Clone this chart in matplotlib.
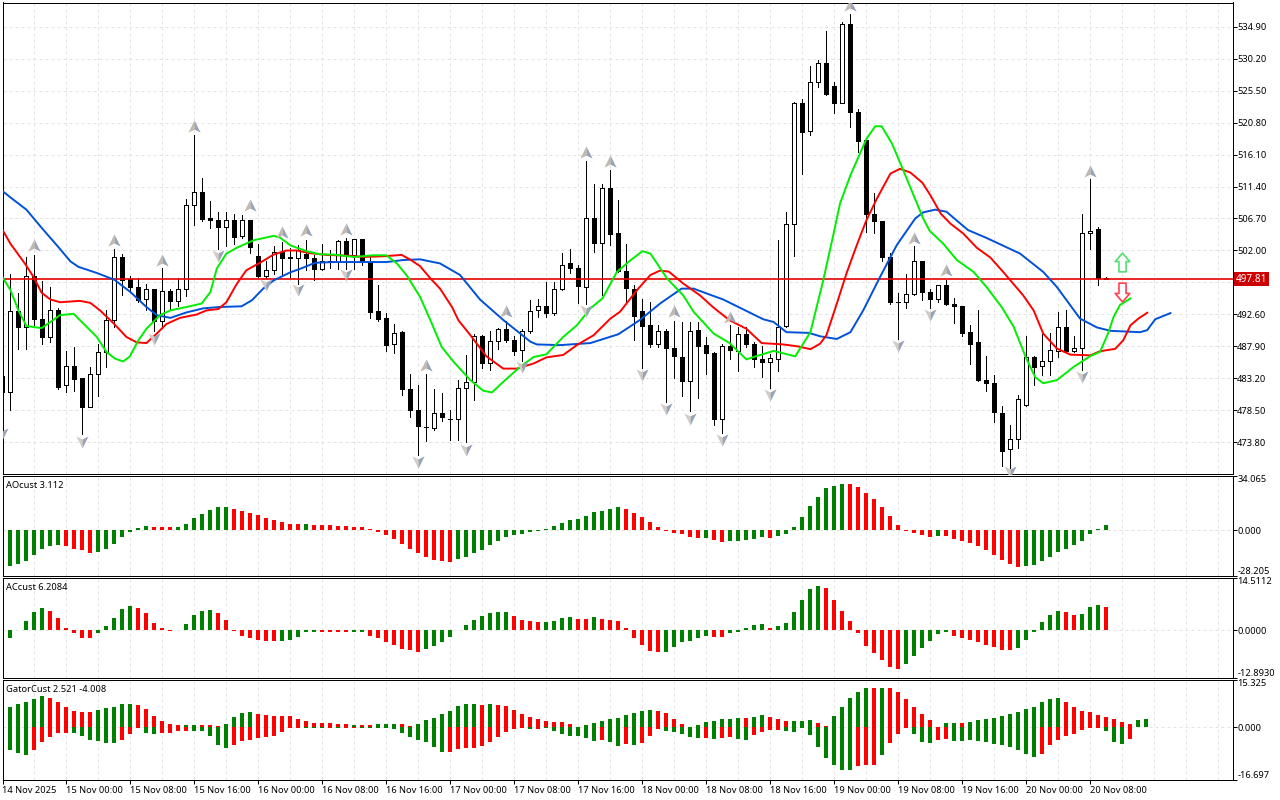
import matplotlib
matplotlib.use('Agg')
import matplotlib.pyplot as plt
from matplotlib.path import Path

plt.rcParams['font.family'] = ['Noto Sans', 'DejaVu Sans']

opens = [483.5,481.2,493.1,490.7,498.3,491.9,489.3,493.3,482.3,485.1,483.2,479.0,483.9,487.1,491.8,501.1,497.8,496.7,494.9,496.4,
  491.7,496.1,494.6,496.4,508.7,510.6,506.7,506.5,505.4,506.5,504.1,506.5,501.2,498.3,499.2,501.8,501.0,500.9,501.5,500.9,
  499.3,500.4,500.3,503.4,501.3,503.7,500.3,493.1,492.1,488.2,490.0,481.7,478.6,476.1,475.9,478.2,477.3,477.3,481.8,482.7,
  489.5,485.5,488.7,490.5,488.9,487.4,490.2,493.3,493.9,492.8,496.3,500.1,499.5,496.6,506.8,503.1,511.2,504.5,499.0,496.4,
  493.1,491.0,488.3,490.2,487.7,486.4,482.8,490.3,488.1,487.0,477.2,487.9,487.3,489.8,488.3,486.0,485.6,486.1,490.9,505.9,
  523.7,519.5,526.7,529.6,526.2,523.6,535.3,522.4,518.2,507.4,506.4,501.1,494.5,494.4,495.6,500.4,495.9,494.9,496.9,494.1,
  493.8,490.0,488.5,483.0,482.6,478.2,472.8,474.3,479.3,486.4,485.1,485.8,487.3,490.7,487.3,487.7,504.6,505.1,498.0]
highs = [499.0,498.6,495.8,501.1,501.4,497.5,496.6,493.6,487.3,487.8,483.2,484.9,488.3,493.3,502.2,501.5,498.3,498.0,497.1,496.4,
  499.4,496.3,498.0,509.6,518.9,512.6,509.2,507.6,507.7,507.4,507.2,506.5,502.9,500.5,502.6,503.2,502.4,502.8,503.6,501.4,
  503.0,502.1,503.6,503.9,503.7,503.7,501.0,497.0,492.8,491.2,490.1,483.8,482.2,483.8,481.6,481.0,478.6,483.0,486.7,489.8,
  489.6,490.1,490.6,491.7,489.4,490.4,494.7,494.9,497.3,497.3,501.7,502.2,499.8,515.2,511.8,511.8,513.8,509.4,502.9,496.9,
  494.9,494.5,491.0,490.5,491.7,491.5,491.5,491.5,489.3,487.1,488.2,491.0,490.8,490.8,488.5,488.0,486.8,503.5,507.6,523.8,
  524.3,529.1,530.0,534.2,526.7,535.5,536.7,522.8,518.2,510.4,506.4,501.7,495.7,498.5,502.6,500.4,496.4,497.0,497.7,495.0,
  493.8,491.0,493.2,486.5,483.7,479.1,476.3,480.7,489.4,486.5,489.8,489.9,492.9,493.2,489.5,507.3,512.5,505.4,498.1]
lows = [476.0,478.5,487.6,487.6,491.1,488.3,488.6,481.6,481.2,481.4,475.0,479.0,480.6,484.9,490.8,495.4,496.1,494.4,493.2,490.1,
  490.7,493.2,493.8,495.3,505.8,506.3,505.3,502.2,502.6,502.9,503.8,501.7,498.1,497.9,498.6,498.3,498.1,497.1,499.1,497.6,
  499.1,499.4,499.3,499.3,499.3,499.8,492.1,491.6,487.2,486.9,480.7,477.5,471.9,474.0,475.7,477.0,474.1,474.1,473.8,480.0,
  484.8,484.4,487.6,488.5,486.6,485.8,489.9,492.3,492.3,492.5,496.2,498.7,494.3,494.1,501.8,495.5,502.8,498.8,494.5,488.9,
  484.7,487.8,487.8,479.7,483.2,480.6,478.4,480.3,483.9,476.3,475.2,486.0,484.3,487.8,484.9,483.4,481.8,484.3,490.7,501.2,
  513.2,519.0,526.0,524.8,522.2,523.6,520.2,516.4,504.7,504.6,500.5,494.1,489.0,493.6,495.5,494.7,493.5,494.5,494.0,491.4,
  489.5,485.3,482.9,481.4,476.8,470.4,470.1,473.0,479.2,482.2,483.7,483.7,486.4,487.1,487.1,484.4,502.2,496.9,497.8]
closes = [481.2,493.1,490.7,498.3,491.9,489.3,493.3,481.9,485.1,483.1,479.0,483.9,487.1,491.8,501.1,497.6,496.6,494.8,496.4,491.6,
  496.1,494.6,496.4,508.7,510.6,506.6,506.5,505.4,506.5,504.0,506.5,502.5,498.3,499.2,501.8,500.9,500.9,502.0,500.9,499.3,
  500.4,500.3,503.4,501.3,503.7,500.3,493.0,492.0,488.1,489.9,481.6,478.6,476.2,476.0,478.2,477.5,477.2,481.8,482.7,489.5,
  485.5,488.7,490.5,488.8,487.3,490.2,493.1,493.9,492.8,496.4,499.9,499.4,496.8,506.8,503.1,511.2,504.4,499.0,496.5,492.4,
  490.9,488.3,490.1,487.7,486.5,482.8,490.1,488.0,486.9,477.2,487.9,487.4,489.8,488.2,486.0,485.6,486.2,490.7,505.9,523.7,
  519.4,526.7,529.6,525.0,523.6,535.3,522.4,518.1,507.4,506.4,501.1,494.5,494.4,495.6,500.4,495.9,494.9,496.9,494.1,493.8,
  489.9,488.3,483.0,482.5,478.3,472.6,474.3,480.2,486.4,484.9,485.8,487.4,490.7,487.3,487.7,504.6,504.9,497.9,497.81]

blue_x = [0,1,3,5,7,8.5,9.5,11.8,14,16,18,19.3,21,23,25.1,27.2,29.9,31.2,32.6,33.9,36,37.2,39.1,41.4,48,50.1,52.2,54.7,57.2,59.7,62.6,66,66.8,69.7,73.5,77,79.7,82.2,84.9,86.4,88,90.1,95.1,96.4,98,100.8,102.2,104.3,106,107.6,109.7,111.8,114.1,115.1,116.6,118,120.7,123,127.2,130.1,131.8,134.7,136.8,138.5,142.2,143.1,144.1,146]
blue_y = [510.75,509.8,508.0,505.2,502.5,500.4,499.6,498.7,497.7,495.9,493.7,492.5,492.1,492.9,493.5,493.7,493.8,494.7,496.4,497.6,498.8,499.3,500.2,500.3,500.3,500.6,500.7,500.1,498.4,494.8,491.8,488.6,488.2,488.1,488.4,489.7,491.8,494.2,496.4,496.4,495.7,494.8,491.9,491.5,490.0,489.9,489.4,489.0,490.0,493.2,498.1,502.8,506.7,507.6,508.0,507.7,505.0,503.85,501.55,498.85,496.65,492.0,490.7,490.2,490.0,490.3,491.9,492.8]
red_x = [0,1,2.8,3.9,4.9,6,7.2,9.7,11,12.2,13.9,15.5,16.8,18,19.3,20.5,22.2,24.3,25.5,27,28,29.3,30.5,32.2,33.9,35.5,36.8,38.5,40.5,43,45.1,47.6,49.9,51,52.2,53.5,54.7,56.2,57,58.5,60.5,62.6,64.3,66.4,68,70.1,71.8,73.9,76,77.2,79.3,81,82.2,83.3,85.1,87.2,88.9,90.9,93,94.9,97.6,99.5,101,102.2,103,104.3,105.5,106.8,108,109.3,111,112.2,113.5,115,116,117.3,118.5,120.1,121.8,123.5,125.1,127.6,128.9,130.1,131.8,133.5,136,137.2,139.1,140.1,141,142,143.1]
red_y = [505.07,503.0,500.1,498.1,495.8,494.8,494.4,494.6,494.3,493.2,491.3,489.3,488.5,488.4,489.8,491.2,492.1,492.6,493.2,493.4,494.4,497.1,499.1,500.2,501.4,502.0,502.0,501.6,501.35,501.25,501.05,501.15,501.35,500.65,499.7,497.9,496.4,493.7,491.75,489.55,486.45,484.65,484.65,485.4,486.3,486.65,488.1,489.55,492.0,493.0,496.15,498.4,499.05,498.9,497.15,495.4,493.6,491.75,490.5,488.4,488.2,487.9,487.5,488.3,489.55,494.2,498.6,502.8,506.45,509.6,513.3,514.0,513.45,511.95,510.1,507.4,505.95,504.5,502.4,500.95,498.85,495.4,493.2,489.8,487.6,486.7,486.6,487.2,487.55,488.8,491.0,492.0,492.85]
green_x = [0,1,2,3,4.9,6,7.2,8.9,10.1,11.8,13,14.1,15.1,15.9,17,18,19.7,21,23,24.9,26,26.8,28,29.3,31.4,33.9,34.7,36,38,39.7,41.4,43.9,46.4,48,49.3,50.5,52.2,53.5,54.9,56.4,58.5,60.1,61.2,62.6,64.7,66.4,68,70.1,71.8,73.5,75,76.8,78.5,80,81,83.1,85.1,86.4,88.9,90.9,93,94.3,96.4,99.1,101,102.6,103.9,104.7,106,108,109.1,109.9,111.2,112.6,113.9,115.1,115.9,117.6,119.3,121.4,123,124.9,126.4,128,129.1,130.1,131.8,133.9,136,137.2,138.2,138.9,139.7,141]
green_y = [498.1,496.2,493.2,490.9,490.6,491.5,492.5,492.7,491.3,489.3,487.1,486.1,485.7,486.4,488.8,490.5,492.5,493.2,493.7,494.2,495.9,499.35,501.55,502.4,503.5,504.15,503.9,502.75,501.9,501.45,501.4,501.05,501.3,501.3,500.1,498.4,495.2,491.75,487.85,485.65,482.95,481.4,481.15,482.7,484.9,486.35,486.75,489.3,491.0,493.5,494.95,498.85,500.55,501.9,501.55,497.85,495.4,493.0,489.8,488.4,486.0,486.5,487.25,486.45,490.0,497.6,504.5,508.9,513.05,518.4,520.25,520.25,517.7,513.8,510.1,506.7,504.9,503.0,500.6,498.85,496.65,493.7,490.8,486.1,483.4,482.5,482.95,484.9,486.5,487.1,489.8,492.25,494.0,494.95]

frac_up_x = [4,14,20,24,31,35,38,43,53,63,73,76,84,91,106,114,118,136]
frac_up_y = [502.8,503.5,500.65,520.25,508.75,504.65,505.0,505.2,485.15,493.1,516.5,515.1,493.1,492.25,538.0,503.9,499.1,513.7]
frac_dn_x = [0,10,19,27,33,37,43,52,58,65,73,80,83,86,90,96,112,116,126,135]
frac_dn_y = [475.1,473.9,489.05,501.15,496.9,496.2,498.4,470.95,472.75,484.9,493.1,483.7,478.65,477.3,474.1,480.75,487.9,492.5,469.5,483.4]

ao_vals = [-22.5,-22.5,-20.8,-18.9,-15.2,-12.0,-10.1,-9.5,-10.1,-11.4,-12.6,-13.9,-13.3,-11.4,-8.8,-4.4,-1.3,1.3,2.5,1.9,
  1.9,1.9,1.9,3.8,7.6,10.1,12.6,14.5,14.5,13.3,12.0,10.7,9.5,7.6,6.3,5.1,3.8,3.8,3.8,3.2,
  3.2,3.2,2.5,2.5,1.9,1.9,0.6,-1.3,-3.2,-5.7,-8.8,-11.4,-14.5,-16.4,-18.3,-18.9,-19.6,-17.7,-16.4,-14.5,
  -12.6,-9.5,-6.9,-4.4,-3.2,-2.5,-1.3,-0.6,0.6,2.5,4.4,6.3,6.9,8.8,11.4,12.0,13.3,14.5,13.3,10.7,
  8.2,5.1,1.9,-0.4,-1.9,-2.5,-4.4,-5.1,-5.1,-6.3,-7.6,-6.9,-6.9,-6.3,-5.7,-4.4,-5.1,-3.8,-2.5,1.9,
  8.2,15.2,20.8,26.5,27.8,29.0,29.0,27.2,23.4,19.6,14.5,8.8,3.2,-0.6,-1.9,-3.2,-4.4,-3.8,-3.8,-5.7,
  -6.9,-8.2,-10.1,-12.6,-15.2,-18.3,-20.8,-22.7,-22.1,-21.5,-18.9,-16.4,-13.3,-11.4,-9.5,-6.9,-2.5,0.6,3.2]
ao_runs = [('r',1),('g',7),('r',4),('g',7),('r',3),('g',7),('r',9),('g',1),('r',18),('g',21),('r',10),('g',1),('r',2),('g',5),('r',1),('g',9),('r',11),('g',1),('r',10),('g',11)]

ac_vals = [-3.9,-2.0,0.2,2.5,5.0,6.1,5.3,3.3,0.8,-0.8,-2.0,-2.2,-0.8,1.1,3.3,5.9,6.7,6.1,4.7,2.0,
  0.6,-0.2,0.1,1.7,4.2,5.3,5.6,4.7,2.8,-0.2,-1.4,-2.2,-2.5,-2.8,-2.8,-2.8,-2.5,-1.7,-0.3,-0.4,
  -0.4,-0.4,-0.4,-0.4,-0.5,-0.4,-1.4,-2.2,-3.3,-3.9,-5.0,-5.3,-5.9,-5.0,-4.2,-3.1,-1.7,0.1,1.4,2.8,
  3.9,4.7,5.0,5.0,3.9,2.8,2.5,2.2,2.2,2.5,3.3,3.6,3.1,3.1,3.6,3.1,2.8,2.5,0.6,-2.0,
  -3.9,-5.6,-5.9,-5.9,-4.5,-3.1,-2.8,-2.2,-1.4,-1.7,-1.7,-0.8,-0.3,0.6,1.4,1.7,0.6,1.1,2.0,5.0,
  8.4,11.4,12.3,11.7,8.4,5.3,2.5,-0.7,-4.2,-6.1,-8.1,-10.0,-10.6,-9.2,-7.0,-4.7,-2.8,-1.1,-0.4,-1.4,
  -2.0,-2.5,-3.1,-3.9,-4.5,-5.3,-5.3,-4.7,-2.5,-0.4,2.2,4.2,5.3,5.0,4.2,4.5,6.4,7.0,6.4]
ac_runs = [('r',1),('g',5),('r',6),('g',5),('r',5),('g',5),('r',8),('g',5),('r',4),('g',2),('r',7),('g',11),('r',4),('g',4),('r',2),('g',1),('r',8),('g',6),('r',2),('g',5),('r',1),('g',6),('r',10),('g',6),('r',8),('g',6),('r',2),('g',3),('r',1)]

gator_up = [5.9,6.6,7.6,8.2,9.2,10.2,9.5,8.2,6.6,5.3,5.0,5.0,5.6,6.3,6.6,7.6,7.6,7.2,5.9,3.7,
  2.1,1.1,0.8,0.8,0.8,0.8,0.8,0.4,1.1,3.3,4.6,5.0,4.3,4.0,3.7,3.7,3.7,2.7,2.1,1.4,
  1.4,1.4,1.1,1.1,0.8,0.8,0.8,1.1,1.1,1.1,1.1,0.4,1.1,2.4,3.0,4.3,5.3,6.9,7.6,7.6,
  7.2,7.6,7.2,6.9,5.6,4.3,3.3,2.7,2.1,1.7,1.7,1.1,0.2,0.8,1.4,2.1,2.7,3.0,4.0,4.6,
  5.3,5.6,5.3,4.6,2.7,1.1,0.2,0.8,1.7,2.1,2.7,2.7,3.0,3.0,3.3,4.0,3.3,2.7,2.1,2.1,
  2.1,2.4,1.4,0.4,3.7,6.6,9.5,11.4,12.7,12.7,12.7,12.7,11.4,9.2,6.6,4.3,2.4,0.1,1.4,1.4,
  1.4,1.7,2.4,2.7,3.0,3.7,4.3,5.0,5.9,6.6,8.2,9.2,9.5,8.2,6.6,5.3,5.0,4.0,3.3,2.7,
  1.7,1.1,2.4,2.7]
gator_up_runs = [('g',6),('r',6),('g',5),('r',6),('g',2),('r',3),('g',4),('r',12),('g',1),('r',2),('g',3),('r',2),('g',8),('r',1),('g',1),('r',10),('g',10),('r',4),('g',7),('r',1),('g',2),('r',3),('g',3),('r',2),('g',5),('r',1),('g',1),('r',7),('g',2),('r',1),('g',12),('r',9),('g',2)]
gator_lo = [-6.6,-7.3,-8.3,-9.0,-7.3,-4.8,-3.1,-1.8,-1.8,-1.8,-2.8,-4.1,-4.4,-5.1,-5.1,-4.1,-2.2,-0.3,-1.8,-2.2,
  -1.8,-1.8,-1.2,-1.2,-1.2,-1.2,-2.8,-5.7,-6.7,-5.7,-4.4,-4.1,-3.5,-3.1,-2.8,-1.5,-0.2,-0.2,-0.2,-0.2,
  -0.2,-0.2,-0.3,-0.2,-0.3,-0.2,-0.2,-0.2,-0.2,-0.5,-1.8,-3.1,-4.1,-4.8,-6.4,-8.0,-8.0,-7.0,-6.7,-6.7,
  -6.0,-4.8,-3.1,-1.5,-0.5,-0.3,-0.5,-0.5,-0.3,-1.2,-2.2,-2.8,-2.8,-3.5,-4.4,-4.1,-4.8,-6.0,-5.4,-5.7,
  -5.1,-2.8,-0.5,-1.2,-1.5,-2.2,-3.1,-3.5,-3.5,-3.8,-3.5,-3.1,-3.8,-4.1,-2.5,-1.5,-0.9,-0.9,-1.2,-1.5,
  -0.2,-2.5,-6.4,-9.9,-11.9,-13.5,-13.8,-12.5,-12.2,-11.9,-9.0,-5.1,-2.2,-0.2,-2.2,-4.8,-5.1,-4.1,-3.8,-4.4,
  -4.4,-4.1,-4.4,-4.8,-5.4,-5.7,-6.4,-7.3,-8.6,-9.6,-8.6,-5.7,-4.1,-2.8,-2.2,-0.9,-0.2,-0.2,-1.2,-4.8,
  -5.4,-3.8]
gator_lo_runs = [('g',4),('r',5),('g',6),('r',3),('g',2),('r',4),('g',5),('r',9),('g',3),('r',1),('g',1),('r',2),('g',11),('r',10),('g',1),('r',1),('g',7),('r',1),('g',2),('r',1),('g',1),('r',3),('g',5),('r',1),('g',1),('r',2),('g',2),('r',4),('g',9),('r',3),('g',1),('r',3),('g',3),('r',2),('g',11),('r',8),('g',3),('r',1)]

price_ticks = [534.90,530.20,525.50,520.80,516.10,511.40,506.70,502.00,497.30,492.60,487.90,483.20,478.50,473.80]
last_price = 497.81
time_labels = ['14 Nov 2025','15 Nov 00:00','15 Nov 08:00','15 Nov 16:00','16 Nov 00:00','16 Nov 08:00','16 Nov 16:00',
  '17 Nov 00:00','17 Nov 08:00','17 Nov 16:00','18 Nov 00:00','18 Nov 08:00','18 Nov 16:00','19 Nov 00:00',
  '19 Nov 08:00','19 Nov 16:00','20 Nov 00:00','20 Nov 08:00']

W, H = 1280., 800.
FS = 6.7
GREEN = '#008000'
RED = '#ff0000'
GRID = '#e2e2e2'
PX = 0.72  # one pixel in points

def makeAxes(top, bottom):
  ax = fig.add_axes([2.5/W, 1-bottom/H, 1230./W, (bottom-top)/H])
  ax.set_xlim(0.0125, 153.76)
  for s in ax.spines.values():
    s.set_linewidth(PX)
  ax.yaxis.tick_right()
  ax.tick_params(axis='y', length=3, width=PX, labelsize=FS, pad=0.4)
  ax.set_xticks([])
  for i in range(4, 154, 4):
    ax.axvline(i, color=GRID, lw=PX, ls=(0, (3, 3)), zorder=0)
  return ax

def expand(runs):
  out = []
  for c, n in runs:
    out += [GREEN if c == 'g' else RED]*n
  return out

def drawHist(ax, vals, runs):
  ax.bar(range(len(vals)), vals, width=0.5, color=expand(runs), antialiased=False, zorder=2)

def subPanel(top, bottom, ymin, ymax, ylabels, title):
  ax = makeAxes(top, bottom)
  ax.set_ylim(ymin, ymax)
  ax.set_yticks([ymax, 0, ymin])
  ax.set_yticklabels(ylabels)
  labs = ax.get_yticklabels()
  labs[0].set_va('top')
  labs[2].set_va('bottom')
  ax.axhline(0, color=GRID, lw=PX, ls=(0, (3, 3)), zorder=0)
  ax.text(3.5/1230, 1-(5.0/(bottom-top)), title, transform=ax.transAxes, fontsize=FS, va='top', ha='left')
  return ax

fig = plt.figure(figsize=(12.8, 8), dpi=100)

# price panel
ax = makeAxes(2.5, 473.5)
ax.set_ylim(469.24, 538.43)
ax.set_yticks(price_ticks)
ax.set_yticklabels(['%.2f' % p for p in price_ticks])
for p in price_ticks:
  ax.axhline(p, color=GRID, lw=PX, ls=(0, (3, 3)), zorder=0)

xs = list(range(len(opens)))
ax.vlines(xs, lows, highs, color='black', lw=PX, antialiased=False, zorder=2)
bottoms = [min(o, c) for o, c in zip(opens, closes)]
heights = [abs(c-o) for o, c in zip(opens, closes)]
fills = ['white' if c >= o else 'black' for o, c in zip(opens, closes)]
ax.bar(xs, heights, bottom=bottoms, width=0.5, color=fills, edgecolor='black', linewidth=PX, antialiased=False, zorder=3)

ax.axhline(last_price, color='#e80000', lw=1.2, zorder=4)

ax.plot(blue_x, blue_y, color='#0050d8', lw=1.4, zorder=5)
ax.plot(red_x, red_y, color=RED, lw=1.4, zorder=5)
ax.plot(green_x, green_y, color='#00ee00', lw=1.4, zorder=6)

# fractal arrows, two shaded halves
upL = Path([(0, 1), (-1, -1), (0, -0.5), (0, 1)], closed=True)
upR = Path([(0, 1), (1, -1), (0, -0.5), (0, 1)], closed=True)
dnL = Path([(0, -1), (-1, 1), (0, 0.5), (0, -1)], closed=True)
dnR = Path([(0, -1), (1, 1), (0, 0.5), (0, -1)], closed=True)
ax.plot(frac_up_x, frac_up_y, ls='', marker=upL, ms=8.8, mfc='#c4b8ac', mec='none', zorder=7)
ax.plot(frac_up_x, frac_up_y, ls='', marker=upR, ms=8.8, mfc='#9aa4b8', mec='none', zorder=7)
ax.plot(frac_dn_x, frac_dn_y, ls='', marker=dnL, ms=8.8, mfc='#d4ccc2', mec='none', zorder=7)
ax.plot(frac_dn_x, frac_dn_y, ls='', marker=dnR, ms=8.8, mfc='#9aa4b8', mec='none', zorder=7)

# signal arrows
bigUp = Path([(0, 1), (0.78, 0.1), (0.38, 0.1), (0.38, -1), (-0.38, -1), (-0.38, 0.1), (-0.78, 0.1), (0, 1)], closed=True)
bigDn = Path([(0, -1), (0.78, -0.1), (0.38, -0.1), (0.38, 1), (-0.38, 1), (-0.38, -0.1), (-0.78, -0.1), (0, -1)], closed=True)
ax.plot([140], [500.3], ls='', marker=bigUp, ms=13.5, mfc='white', mec='#50e070', mew=1.2, zorder=8)
ax.plot([140], [495.9], ls='', marker=bigDn, ms=13.5, mfc='white', mec='#ff4050', mew=1.2, zorder=8)

ax.text(1+3.6/1230, last_price, '%.2f' % last_price, transform=ax.get_yaxis_transform(), color='white', fontsize=7.2,
        va='center', ha='left', clip_on=False, zorder=9,
        bbox=dict(boxstyle='square,pad=0.18', fc='#cc0000', ec='none'))

# indicator panels
axAO = subPanel(475.5, 575.5, -28.205, 34.065, ['34.065', '0.000', '-28.205'], 'AOcust 3.112')
drawHist(axAO, ao_vals, ao_runs)
axAC = subPanel(577.5, 677.5, -12.893, 14.5112, ['14.5112', '0.0000', '-12.8930'], 'ACcust 6.2084')
drawHist(axAC, ac_vals, ac_runs)
axG = subPanel(679.5, 779.5, -16.697, 15.325, ['15.325', '0.000', '-16.697'], 'GatorCust 2.521 -4.008')
drawHist(axG, gator_up, gator_up_runs)
drawHist(axG, gator_lo, gator_lo_runs)

axG.set_xticks([i*8 for i in range(len(time_labels))])
axG.set_xticklabels(time_labels, fontsize=FS, ha='left')
axG.tick_params(axis='x', length=3.2, width=PX, pad=1.5)

plt.savefig('out.png', dpi=100)
plt.close('all')
